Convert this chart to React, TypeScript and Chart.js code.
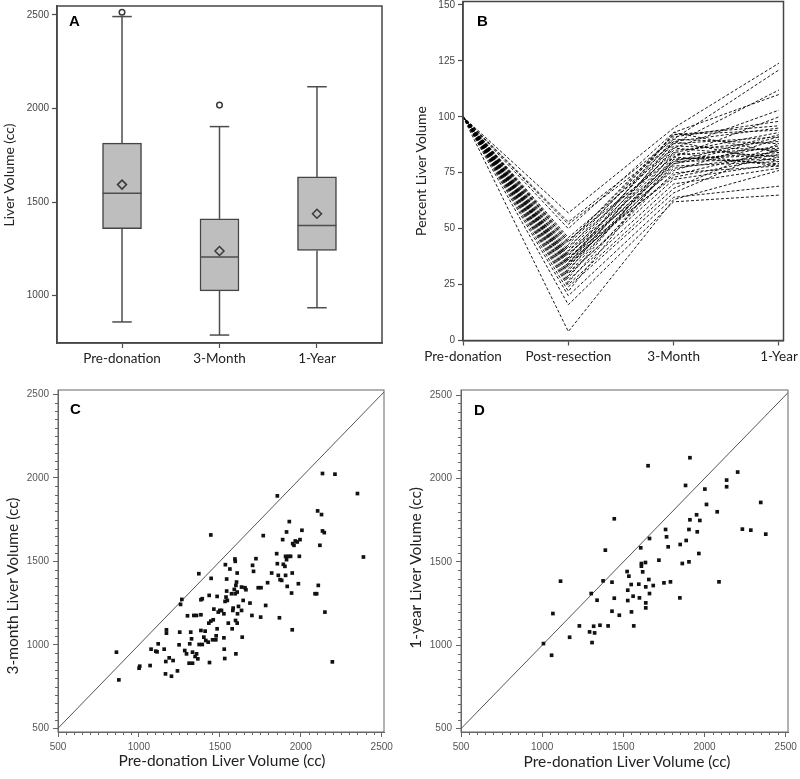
import React, { useEffect, useRef } from 'react';
import { Chart, registerables } from 'chart.js';

Chart.register(...registerables);

// ---------------- Panel A : box plots ----------------
const aCategories = ['Pre-donation', '3-Month', '1-Year'];
const aWhiskerLow = [859, 789, 935];
const aQ1 = [1357, 1025, 1241];
const aMedian = [1547, 1206, 1375];
const aQ3 = [1815, 1410, 1634];
const aWhiskerHigh = [2491, 1903, 2116];
const aMean = [1593, 1238, 1437];
const aOutlierGroup = [0, 1];
const aOutlierValue = [2514, 2018];
const aYTicks = [1000, 1500, 2000, 2500];

// ---------------- Panel B : individual trajectories (percent) ----------------
const bLabels = ['Pre-donation', 'Post-resection', '3-Month', '1-Year'];
const bYTicks = [0, 25, 50, 75, 100, 125, 150];
const bPre = [100, 100, 100, 100, 100, 100, 100, 100, 100, 100, 100, 100, 100, 100, 100, 100, 100, 100, 100, 100,
  100, 100, 100, 100, 100, 100, 100, 100, 100, 100, 100, 100, 100, 100, 100, 100, 100, 100, 100, 100];
const bPost = [57, 53, 52, 50, 46, 45, 44, 43, 42, 41, 40, 40, 39, 38, 38, 37, 36, 36, 35, 35,
  34, 34, 33, 33, 32, 31, 30, 30, 29, 28, 27, 26, 25, 24, 22, 20, 16, 4, 44, 37];
const b3Month = [95, 90, 88, 93, 86, 82, 91, 89, 84, 92, 80, 88, 76, 85, 90, 79, 83, 87, 74, 81,
  93, 77, 86, 80, 78, 89, 72, 82, 75, 84, 70, 79, 68, 66, 81, 64, 62, 63, 92, 73];
const b1Year = [124, 121, 112, 110, 103, 100, 98, 95, 93, 94, 92, 91, 90, 89, 88, 87, 86, 85, 85, 84,
  84, 83, 82, 81, 80, 80, 79, 79, 78, 78, 77, 91, 88, 86, 83, 69, 65, 76, 96, 82];

// ---------------- Panel C : pre-donation vs 3-month ----------------
const cPre = [861, 876, 1001, 1005, 1069, 1075, 1104, 1112, 1119, 1156, 1166, 1170, 1170, 1164, 1187, 1201, 1211, 1238, 1248, 1252,
  1257, 1265, 1283, 1294, 1300, 1310, 1314, 1320, 1325, 1331, 1331, 1339, 1347, 1356, 1356, 1364, 1370, 1372, 1383, 1383,
  1383, 1391, 1391, 1401, 1409, 1413, 1428, 1432, 1434, 1436, 1444, 1446, 1444, 1455, 1459, 1463, 1475, 1477, 1483, 1483,
  1490, 1500, 1510, 1525, 1525, 1527, 1530, 1532, 1534, 1538, 1542, 1542, 1546, 1552, 1562, 1572, 1576, 1580, 1582, 1589,
  1593, 1595, 1595, 1597, 1599, 1599, 1603, 1607, 1607, 1607, 1609, 1615, 1634, 1634, 1638, 1644, 1655, 1661, 1686, 1698,
  1702, 1708, 1723, 1737, 1754, 1752, 1768, 1783, 1795, 1820, 1851, 1855, 1855, 1861, 1868, 1872, 1882, 1888, 1892, 1902,
  1906, 1906, 1912, 1912, 1916, 1925, 1929, 1937, 1943, 1947, 1947, 1950, 1958, 1966, 1978, 1985, 1991, 1995, 2007, 2088,
  2098, 2104, 2108, 2118, 2128, 2134, 2134, 2145, 2149, 2195, 2211, 2350, 2387];
const c3Month = [956, 790, 860, 872, 876, 974, 962, 958, 1006, 974, 900, 1090, 1070, 826, 922, 812, 906, 844, 1000, 1076,
  1242, 1272, 966, 946, 1174, 890, 1006, 1076, 1036, 890, 956, 1176, 930, 946, 1176, 916, 1426, 1002, 1086, 1180,
  1270, 1276, 1002, 1046, 1082, 1026, 1016, 1130, 1296, 894, 1142, 1398, 1658, 1030, 1150, 1214, 1030, 1054, 1096, 1290,
  1196, 1206, 1206, 1186, 1042, 974, 918, 1260, 1480, 1286, 1322, 1394, 1266, 1130, 1454, 1306, 1096, 1206, 1220, 1332,
  1514, 1500, 1306, 1146, 946, 1356, 1376, 1316, 1130, 1430, 1186, 1230, 1206, 1346, 1046, 1266, 1342, 1330, 1250, 1176,
  1476, 1440, 1516, 1342, 1342, 1166, 1654, 1236, 1372, 1430, 1546, 1486, 1892, 1416, 1162, 1390, 1386, 1630, 1482, 1470,
  1416, 1530, 1676, 1510, 1350, 1530, 1738, 1530, 1310, 1430, 1090, 1606, 1596, 1622, 1616, 1366, 1530, 1630, 1686, 1306,
  1306, 1802, 1356, 1596, 1780, 1682, 2026, 1672, 1196, 898, 2022, 1906, 1526];

// ---------------- Panel D : pre-donation vs 1-year ----------------
const dPre = [1008, 1058, 1066, 1113, 1169, 1229, 1292, 1302, 1307, 1317, 1323, 1338, 1356, 1375, 1389, 1406, 1430, 1430, 1444, 1444,
  1475, 1523, 1527, 1527, 1534, 1548, 1550, 1560, 1564, 1595, 1599, 1607, 1611, 1611, 1619, 1636, 1638, 1638, 1638, 1652,
  1657, 1661, 1661, 1684, 1719, 1750, 1760, 1766, 1776, 1790, 1848, 1850, 1863, 1883, 1887, 1904, 1904, 1910, 1910, 1951,
  1955, 1965, 1971, 2002, 2012, 2078, 2089, 2136, 2136, 2204, 2233, 2285, 2346, 2377];
const d1Year = [1010, 940, 1190, 1384, 1048, 1116, 1080, 1310, 1016, 1114, 1074, 1270, 1120, 1386, 1570, 1116, 1378, 1204, 1282, 1758,
  1180, 1442, 1330, 1268, 1414, 1364, 1200, 1294, 1116, 1366, 1284, 1584, 1490, 1474, 1440, 1496, 1350, 1254, 1224, 2076,
  1394, 1640, 1310, 1358, 1510, 1374, 1694, 1650, 1590, 1380, 1284, 1604, 1490, 1958, 1628, 1500, 1694, 1752, 2124, 1782,
  1680, 1550, 1748, 1936, 1844, 1800, 1380, 1990, 1950, 2038, 1696, 1690, 1856, 1666];
const cdTicks = [500, 1000, 1500, 2000, 2500];

// ---------------- helpers ----------------
const AX = '#4d4d4d';
const LABEL_FONT = 'Lato, "Open Sans", sans-serif';
const TICK_FONT = '"Liberation Sans", Arial, sans-serif';
const plain = (v: number) => String(v);

function fitW(w: number) {
  return (s: any) => {
    s.width = w;
    s.paddingTop = 0; s.paddingBottom = 0; s.paddingLeft = 0; s.paddingRight = 0;
  };
}
function fitH(h: number) {
  return (s: any) => {
    s.height = h;
    s.paddingTop = 0; s.paddingBottom = 0; s.paddingLeft = 0; s.paddingRight = 0;
  };
}
function setTicks(values: number[]) {
  return (s: any) => { s.ticks = values.map((v) => ({ value: v })); };
}

function makeFrame(color: string, width: number) {
  return {
    id: 'frame',
    afterDatasetsDraw(chart: any) {
      const { ctx, chartArea: a } = chart;
      ctx.save();
      ctx.strokeStyle = color;
      ctx.lineWidth = width;
      ctx.strokeRect(a.left, a.top, a.right - a.left, a.bottom - a.top);
      ctx.restore();
    },
  };
}

function makeMinor(step: number, major: number, len: number, color: string) {
  return {
    id: 'minorTicks',
    afterDraw(chart: any) {
      const { ctx, chartArea: a, scales } = chart;
      const xs = scales.x, ys = scales.y;
      ctx.save();
      ctx.strokeStyle = color;
      ctx.lineWidth = 1;
      ctx.beginPath();
      for (let v = Math.ceil(xs.min / step) * step; v <= xs.max; v += step) {
        if (v % major === 0) continue;
        const p = Math.round(xs.getPixelForValue(v)) + 0.5;
        ctx.moveTo(p, a.bottom);
        ctx.lineTo(p, a.bottom + len);
      }
      for (let v = Math.ceil(ys.min / step) * step; v <= ys.max; v += step) {
        if (v % major === 0) continue;
        const p = Math.round(ys.getPixelForValue(v)) + 0.5;
        ctx.moveTo(a.left, p);
        ctx.lineTo(a.left - len, p);
      }
      ctx.stroke();
      ctx.restore();
    },
  };
}

const basePlugins = { legend: { display: false }, tooltip: { enabled: false } };

function segment(x1: number, y1: number, x2: number, y2: number, order: number, width = 1.5): any {
  return {
    type: 'line',
    data: [{ x: x1, y: y1 }, { x: x2, y: y2 }],
    borderColor: AX,
    borderWidth: width,
    pointRadius: 0,
    order,
  };
}

// ---------------- configs ----------------
function configA(): any {
  const capHalf = 0.1;
  const boxHalf = 0.2;
  const whiskers: any[] = [];
  aCategories.forEach((_, i) => {
    whiskers.push(segment(i, aQ3[i], i, aWhiskerHigh[i], 2));
    whiskers.push(segment(i, aWhiskerLow[i], i, aQ1[i], 2));
    whiskers.push(segment(i - capHalf, aWhiskerHigh[i], i + capHalf, aWhiskerHigh[i], 2));
    whiskers.push(segment(i - capHalf, aWhiskerLow[i], i + capHalf, aWhiskerLow[i], 2));
    whiskers.push(segment(i - boxHalf, aMedian[i], i + boxHalf, aMedian[i], 1));
  });
  return {
    type: 'bar',
    data: {
      datasets: [
        {
          type: 'bar',
          data: aCategories.map((_, i) => ({ x: i, y: [aQ1[i], aQ3[i]] })),
          backgroundColor: '#bebebe',
          borderColor: '#454545',
          borderWidth: 1.5,
          borderSkipped: false,
          barThickness: 39,
          order: 3,
        },
        ...whiskers,
        {
          type: 'line',
          data: aCategories.map((_, i) => ({ x: i, y: aMean[i] })),
          showLine: false,
          pointStyle: 'rectRot',
          pointRadius: 4.5,
          pointBorderColor: '#3a3a3a',
          pointBackgroundColor: 'rgba(0,0,0,0)',
          pointBorderWidth: 1.5,
          order: 0,
        },
        {
          type: 'line',
          data: aOutlierGroup.map((g, i) => ({ x: g, y: aOutlierValue[i] })),
          showLine: false,
          pointStyle: 'circle',
          pointRadius: 2.8,
          pointBorderColor: '#3a3a3a',
          pointBackgroundColor: '#ffffff',
          pointBorderWidth: 1.5,
          order: 0,
        },
      ],
    },
    options: {
      responsive: false,
      animation: false,
      layout: { padding: { left: 0, right: 18, top: 2, bottom: 0 } },
      plugins: basePlugins,
      scales: {
        x: {
          type: 'linear', min: -0.667, max: 2.667, offset: false, bounds: 'data',
          afterBuildTicks: setTicks([0, 1, 2]),
          afterFit: fitH(37),
          ticks: { callback: (v: number) => aCategories[Math.round(v)] ?? '', font: { family: LABEL_FONT, size: 13.5 }, color: '#222', padding: 3, maxRotation: 0, autoSkip: false },
          grid: { drawOnChartArea: false, offset: false, tickLength: 5, color: AX, tickWidth: 1.2 },
          border: { color: AX, width: 1.5 },
        },
        y: {
          type: 'linear', min: 746.5, max: 2547.5, bounds: 'data', beginAtZero: false,
          afterBuildTicks: setTicks(aYTicks),
          afterFit: fitW(57),
          ticks: { callback: plain, font: { family: TICK_FONT, size: 10 }, color: '#444', padding: 3 },
          grid: { drawOnChartArea: false, tickLength: 5, color: AX, tickWidth: 1.2 },
          border: { color: AX, width: 1.5 },
        },
      },
    },
    plugins: [makeFrame('#454545', 1.5)],
  };
}

function configB(): any {
  const datasets = bPost.map((_, i) => ({
    type: 'line',
    data: [
      { x: 0, y: bPre[i] },
      { x: 1, y: bPost[i] },
      { x: 2, y: b3Month[i] },
      { x: 3, y: b1Year[i] },
    ],
    borderColor: 'rgba(0,0,0,0.9)',
    borderWidth: 1,
    borderDash: [3, 2],
    pointRadius: 0,
    tension: 0,
  }));
  return {
    type: 'line',
    data: { datasets },
    options: {
      responsive: false,
      animation: false,
      layout: { padding: { left: 0, right: 16.5, top: 1.5, bottom: 0 } },
      plugins: basePlugins,
      scales: {
        x: {
          type: 'linear', min: 0, max: 3.043, bounds: 'data',
          afterBuildTicks: setTicks([0, 1, 2, 3]),
          afterFit: fitH(39.5),
          ticks: { callback: (v: number) => bLabels[Math.round(v)] ?? '', font: { family: LABEL_FONT, size: 13.5 }, color: '#222', padding: 3, maxRotation: 0, autoSkip: false },
          grid: { drawOnChartArea: false, tickLength: 5, color: AX, tickWidth: 1.2 },
          border: { color: AX, width: 1.5 },
        },
        y: {
          type: 'linear', min: 0, max: 151.56, bounds: 'data',
          afterBuildTicks: setTicks(bYTicks),
          afterFit: fitW(63),
          ticks: { callback: plain, font: { family: TICK_FONT, size: 10 }, color: '#444', padding: 3 },
          grid: { drawOnChartArea: false, tickLength: 5, color: AX, tickWidth: 1.2 },
          border: { color: AX, width: 1.5 },
        },
      },
    },
    plugins: [makeFrame('#454545', 1.5)],
  };
}

function configScatter(xs: number[], ys: number[], area: { left: number; right: number; xMax: number; yMin: number; yMax: number }): any {
  return {
    type: 'scatter',
    data: {
      datasets: [
        {
          type: 'line',
          data: [{ x: 400, y: 400 }, { x: 2600, y: 2600 }],
          borderColor: '#555',
          borderWidth: 1,
          pointRadius: 0,
          clip: 0,
          order: 1,
        },
        {
          type: 'scatter',
          data: xs.map((x, i) => ({ x, y: ys[i] })),
          pointStyle: 'rect',
          pointRadius: 2.6,
          pointBackgroundColor: '#111',
          pointBorderColor: '#111',
          pointBorderWidth: 0,
          order: 0,
        },
      ],
    },
    options: {
      responsive: false,
      animation: false,
      layout: { padding: { left: 0, right: 400 - area.right, top: 10, bottom: 0 } },
      plugins: basePlugins,
      scales: {
        x: {
          type: 'linear', min: 500, max: area.xMax, bounds: 'data',
          afterBuildTicks: setTicks(cdTicks),
          afterFit: fitH(47),
          ticks: { callback: plain, font: { family: TICK_FONT, size: 10 }, color: '#555', padding: 4, maxRotation: 0 },
          grid: { drawOnChartArea: false, tickLength: 5, color: '#666' },
          border: { color: '#666', width: 1 },
        },
        y: {
          type: 'linear', min: area.yMin, max: area.yMax, bounds: 'data',
          afterBuildTicks: setTicks(cdTicks),
          afterFit: fitW(area.left),
          ticks: { callback: plain, font: { family: TICK_FONT, size: 10 }, color: '#555', padding: 4 },
          grid: { drawOnChartArea: false, tickLength: 5, color: '#666' },
          border: { color: '#666', width: 1 },
        },
      },
    },
    plugins: [makeFrame('#666', 1), makeMinor(50, 500, 3, '#666')],
  };
}

function ChartCanvas({ left, top, width, height, make }: { left: number; top: number; width: number; height: number; make: () => any }) {
  const ref = useRef<HTMLCanvasElement>(null);
  useEffect(() => {
    const chart = new Chart(ref.current as HTMLCanvasElement, make());
    return () => chart.destroy();
  }, []);
  return (
    <canvas
      ref={ref}
      width={width}
      height={height}
      style={{ position: 'absolute', left, top, width, height, display: 'block' }}
    />
  );
}

const letterStyle = (left: number, top: number): React.CSSProperties => ({
  position: 'absolute',
  left,
  top,
  fontFamily: '"Liberation Sans", Arial, sans-serif',
  fontWeight: 900,
  fontSize: 15,
  lineHeight: '15px',
  color: '#000',
});

function AxisTitle({ cx, cy, size, vertical, children }: { cx: number; cy: number; size: number; vertical?: boolean; children: React.ReactNode }) {
  return (
    <div
      style={{
        position: 'absolute',
        left: cx,
        top: cy,
        transform: vertical ? 'translate(-50%, -50%) rotate(-90deg)' : 'translate(-50%, -50%)',
        whiteSpace: 'nowrap',
        fontFamily: LABEL_FONT,
        fontSize: size,
        lineHeight: `${Math.round(size * 1.2)}px`,
        color: '#222',
      }}
    >
      {children}
    </div>
  );
}

export default function App() {
  return (
    <div style={{ position: 'absolute', left: 0, top: 0, width: 800, height: 779, background: '#fff' }}>
      <ChartCanvas left={0} top={0} width={400} height={380} make={configA} />
      <ChartCanvas left={400} top={0} width={400} height={380} make={configB} />
      <ChartCanvas
        left={0} top={380} width={400} height={399}
        make={() => configScatter(cPre, c3Month, { left: 58, right: 384, xMax: 2514, yMin: 478, yMax: 2526 })}
      />
      <ChartCanvas
        left={400} top={380} width={400} height={399}
        make={() => configScatter(dPre, d1Year, { left: 61, right: 388, xMax: 2514, yMin: 480, yMax: 2530 })}
      />
      <AxisTitle cx={8} cy={175} size={14} vertical>Liver Volume (cc)</AxisTitle>
      <AxisTitle cx={420} cy={171} size={14} vertical>Percent Liver Volume</AxisTitle>
      <AxisTitle cx={12} cy={586} size={15.5} vertical>3-month Liver Volume (cc)</AxisTitle>
      <AxisTitle cx={415} cy={568} size={15.5} vertical>1-year Liver Volume (cc)</AxisTitle>
      <AxisTitle cx={222} cy={760} size={15.5}>Pre-donation Liver Volume (cc)</AxisTitle>
      <AxisTitle cx={627} cy={761} size={15.5}>Pre-donation Liver Volume (cc)</AxisTitle>
      <div style={letterStyle(69, 13)}>A</div>
      <div style={letterStyle(477, 13)}>B</div>
      <div style={letterStyle(70, 401)}>C</div>
      <div style={letterStyle(474, 402)}>D</div>
    </div>
  );
}
